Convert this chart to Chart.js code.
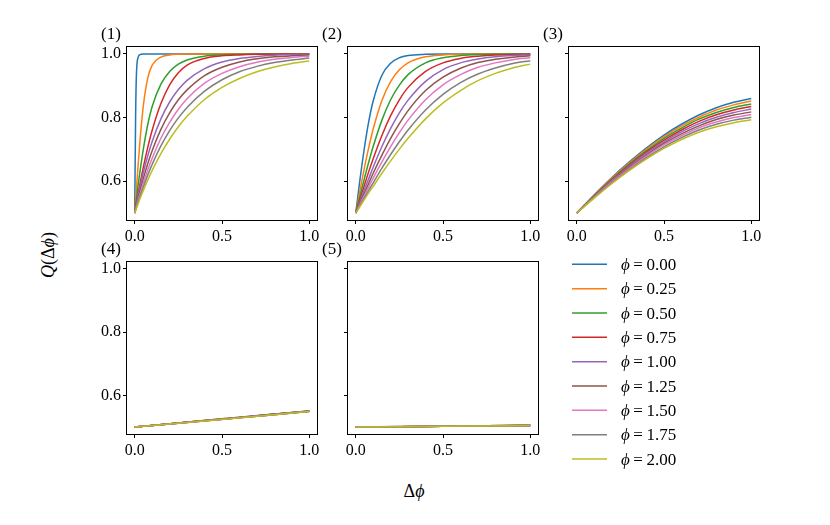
<!DOCTYPE html>
<html>
<head>
<meta charset="utf-8">
<script src="https://cdn.jsdelivr.net/npm/chart.js@4.4.0/dist/chart.umd.min.js"></script>
<style>
html,body{margin:0;padding:0;background:#fff;}
#fig{position:relative;width:830px;height:525px;overflow:hidden;background:#fff;font-family:'Liberation Serif','DejaVu Serif',serif;}
#fig canvas{position:absolute;}
.lbl{position:absolute;font-size:18px;color:#000;white-space:nowrap;line-height:1;font-family:'Liberation Serif','DejaVu Serif',serif;}
#ylab{left:48px;top:255px;transform:translate(-50%,-50%) rotate(-90deg);}
#xlab{left:414px;top:491px;transform:translate(-50%,-50%);}
</style>
</head>
<body>
<div id="fig">
  <canvas id="c1"></canvas>
  <canvas id="c2"></canvas>
  <canvas id="c3"></canvas>
  <canvas id="c4"></canvas>
  <canvas id="c5"></canvas>
  <canvas id="cleg"></canvas>
  <div class="lbl" id="ylab"><i>Q</i>(Δ<i>ϕ</i>)</div>
  <div class="lbl" id="xlab">Δ<i>ϕ</i></div>
</div>
<script>
// ---------------- data ----------------
const PHI_VALUES = ['0.00','0.25','0.50','0.75','1.00','1.25','1.50','1.75','2.00'];
const PANEL_NAMES = ['(1)','(2)','(3)','(4)','(5)'];
const X_TICKS = [0.0, 0.5, 1.0];
const Y_TICKS = [0.6, 0.8, 1.0];

const X_P1 = [0, 0.005, 0.01, 0.02, 0.03, 0.05, 0.075, 0.1, 0.15, 0.2, 0.25, 0.3, 0.4, 0.5, 0.6, 0.7, 0.8, 0.9, 1.0];
const Q_P1 = [
  [0.5, 0.800, 0.940, 0.990, 0.998, 1.000, 1.000, 1.000, 1.000, 1.000, 1.000, 1.000, 1.000, 1.000, 1.000, 1.000, 1.000, 1.000, 1.000],
  [0.5, 0.540, 0.579, 0.655, 0.726, 0.841, 0.925, 0.965, 0.990, 0.997, 0.999, 1.000, 1.000, 1.000, 1.000, 1.000, 1.000, 1.000, 1.000],
  [0.5, 0.524, 0.546, 0.590, 0.630, 0.703, 0.779, 0.835, 0.905, 0.945, 0.968, 0.981, 0.993, 0.997, 0.999, 1.000, 1.000, 1.000, 1.000],
  [0.5, 0.516, 0.532, 0.563, 0.592, 0.646, 0.707, 0.760, 0.844, 0.903, 0.941, 0.965, 0.986, 0.994, 0.997, 0.999, 0.999, 1.000, 1.000],
  [0.5, 0.515, 0.529, 0.556, 0.582, 0.629, 0.681, 0.725, 0.796, 0.849, 0.888, 0.917, 0.954, 0.975, 0.986, 0.992, 0.996, 0.998, 0.999],
  [0.5, 0.512, 0.524, 0.547, 0.569, 0.610, 0.656, 0.696, 0.763, 0.815, 0.856, 0.887, 0.932, 0.958, 0.975, 0.985, 0.991, 0.994, 0.997],
  [0.5, 0.511, 0.521, 0.541, 0.560, 0.595, 0.636, 0.672, 0.735, 0.785, 0.826, 0.859, 0.908, 0.939, 0.960, 0.974, 0.983, 0.989, 0.993],
  [0.5, 0.509, 0.518, 0.535, 0.552, 0.583, 0.620, 0.653, 0.711, 0.759, 0.799, 0.832, 0.883, 0.919, 0.944, 0.961, 0.973, 0.981, 0.987],
  [0.5, 0.508, 0.515, 0.530, 0.545, 0.572, 0.604, 0.634, 0.687, 0.732, 0.771, 0.804, 0.857, 0.895, 0.923, 0.944, 0.959, 0.970, 0.978]
];

const X_P2 = [0, 0.025, 0.05, 0.075, 0.1, 0.15, 0.2, 0.25, 0.3, 0.4, 0.5, 0.6, 0.7, 0.8, 0.9, 1.0];
const Q_P2 = [
  [0.5, 0.608, 0.706, 0.789, 0.852, 0.933, 0.971, 0.988, 0.995, 0.999, 1.000, 1.000, 1.000, 1.000, 1.000, 1.000],
  [0.5, 0.573, 0.643, 0.707, 0.764, 0.854, 0.913, 0.950, 0.972, 0.991, 0.997, 0.999, 1.000, 1.000, 1.000, 1.000],
  [0.5, 0.555, 0.609, 0.661, 0.709, 0.792, 0.856, 0.902, 0.935, 0.972, 0.988, 0.995, 0.998, 0.999, 1.000, 1.000],
  [0.5, 0.544, 0.588, 0.631, 0.671, 0.744, 0.806, 0.856, 0.895, 0.945, 0.972, 0.986, 0.993, 0.997, 0.998, 0.999],
  [0.5, 0.537, 0.574, 0.609, 0.644, 0.709, 0.766, 0.815, 0.855, 0.914, 0.951, 0.972, 0.984, 0.991, 0.995, 0.997],
  [0.5, 0.532, 0.563, 0.594, 0.625, 0.682, 0.735, 0.781, 0.822, 0.885, 0.927, 0.955, 0.973, 0.983, 0.990, 0.994],
  [0.5, 0.528, 0.556, 0.583, 0.610, 0.661, 0.709, 0.753, 0.792, 0.856, 0.903, 0.935, 0.958, 0.972, 0.982, 0.988],
  [0.5, 0.524, 0.548, 0.572, 0.595, 0.641, 0.684, 0.724, 0.761, 0.824, 0.873, 0.910, 0.937, 0.956, 0.970, 0.979],
  [0.5, 0.521, 0.543, 0.564, 0.584, 0.625, 0.664, 0.701, 0.735, 0.796, 0.846, 0.885, 0.916, 0.939, 0.956, 0.968]
];

const X_P3 = [0, 0.1, 0.2, 0.3, 0.4, 0.5, 0.6, 0.7, 0.8, 0.9, 1.0];
const Q_P3 = [
  [0.5, 0.557, 0.611, 0.660, 0.705, 0.745, 0.779, 0.808, 0.831, 0.848, 0.860],
  [0.5, 0.556, 0.609, 0.657, 0.701, 0.740, 0.773, 0.801, 0.824, 0.840, 0.852],
  [0.5, 0.555, 0.606, 0.653, 0.696, 0.735, 0.767, 0.795, 0.816, 0.832, 0.843],
  [0.5, 0.553, 0.604, 0.650, 0.692, 0.729, 0.761, 0.788, 0.809, 0.824, 0.835],
  [0.5, 0.552, 0.602, 0.647, 0.688, 0.724, 0.755, 0.781, 0.801, 0.816, 0.827],
  [0.5, 0.551, 0.599, 0.643, 0.683, 0.719, 0.749, 0.774, 0.794, 0.808, 0.818],
  [0.5, 0.550, 0.597, 0.640, 0.679, 0.714, 0.743, 0.768, 0.786, 0.800, 0.810],
  [0.5, 0.548, 0.594, 0.636, 0.674, 0.708, 0.737, 0.761, 0.779, 0.792, 0.801],
  [0.5, 0.547, 0.592, 0.633, 0.670, 0.703, 0.731, 0.754, 0.771, 0.784, 0.793]
];

const X_P4 = [0, 0.25, 0.5, 0.75, 1.0];
const Q_P4 = [
  [0.5, 0.513, 0.526, 0.539, 0.551],
  [0.5, 0.513, 0.526, 0.538, 0.551],
  [0.5, 0.513, 0.525, 0.538, 0.551],
  [0.5, 0.513, 0.525, 0.538, 0.550],
  [0.5, 0.513, 0.525, 0.538, 0.550],
  [0.5, 0.512, 0.525, 0.537, 0.550],
  [0.5, 0.512, 0.525, 0.537, 0.550],
  [0.5, 0.512, 0.525, 0.537, 0.549],
  [0.5, 0.512, 0.524, 0.537, 0.549]
];

const X_P5 = [0, 0.25, 0.5, 0.75, 1.0];
const Q_P5 = [
  [0.5, 0.5015, 0.5030, 0.5043, 0.5055],
  [0.5, 0.5015, 0.5029, 0.5042, 0.5054],
  [0.5, 0.5014, 0.5028, 0.5041, 0.5053],
  [0.5, 0.5014, 0.5027, 0.5040, 0.5052],
  [0.5, 0.5013, 0.5026, 0.5039, 0.5051],
  [0.5, 0.5013, 0.5025, 0.5038, 0.5050],
  [0.5, 0.5012, 0.5025, 0.5037, 0.5049],
  [0.5, 0.5012, 0.5024, 0.5036, 0.5048],
  [0.5, 0.5012, 0.5023, 0.5035, 0.5047]
];

// ---------------- styles / layout ----------------
const SERIES_COLORS = ['#1f77b4','#ff7f0e','#2ca02c','#d62728','#9467bd','#8c564b','#e377c2','#7f7f7f','#bcbd22'];
const FONT = "'Liberation Serif','DejaVu Serif',serif";
const PANEL_BOXES = [
  {L:126, T:46,  W:192, H:175, ylabels:true},
  {L:347, T:46,  W:192, H:175, ylabels:false},
  {L:568, T:46,  W:192, H:175, ylabels:false},
  {L:126, T:261, W:192, H:174, ylabels:true},
  {L:347, T:261, W:192, H:174, ylabels:false}
];
const AX_W = 45, AX_H = 26, PAD_T = 22, PAD_R = 12;

const framePlugin = {
  id: 'frame',
  afterDatasetsDraw(chart, args, opts) {
    const {ctx, chartArea: a} = chart;
    ctx.save();
    ctx.strokeStyle = '#000';
    ctx.lineWidth = 1;
    ctx.strokeRect(Math.round(a.left) + 0.5, Math.round(a.top) + 0.5, Math.round(a.width) - 1, Math.round(a.height) - 1);
    ctx.fillStyle = '#000';
    ctx.font = '17px ' + FONT;
    ctx.textAlign = 'left';
    ctx.textBaseline = 'middle';
    ctx.fillText(opts.label, a.left - 25, a.top - 11);
    ctx.restore();
  }
};

function makePanel(idx, xs, qs) {
  const box = PANEL_BOXES[idx];
  const cv = document.getElementById('c' + (idx + 1));
  const w = box.W + AX_W + PAD_R, h = box.H + PAD_T + AX_H;
  cv.width = w; cv.height = h;
  cv.style.width = w + 'px'; cv.style.height = h + 'px';
  cv.style.left = (box.L - AX_W) + 'px';
  cv.style.top = (box.T - PAD_T) + 'px';
  const datasets = qs.map((ys, i) => ({
    label: 'ϕ = ' + PHI_VALUES[i],
    data: xs.map((x, k) => ({x: x, y: ys[k]})),
    borderColor: SERIES_COLORS[i],
    backgroundColor: SERIES_COLORS[i],
    borderWidth: 1.5,
    pointRadius: 0,
    fill: false,
    cubicInterpolationMode: 'monotone',
    order: qs.length - i
  }));
  const tickFont = {family: FONT, size: 16};
  new Chart(cv, {
    type: 'line',
    data: {datasets},
    options: {
      responsive: false,
      animation: false,
      devicePixelRatio: 1,
      layout: {padding: {left: 0, right: PAD_R, top: PAD_T, bottom: 0}},
      plugins: {legend: {display: false}, tooltip: {enabled: false}, frame: {label: PANEL_NAMES[idx]}},
      scales: {
        x: {
          type: 'linear', min: -0.05, max: 1.05,
          afterBuildTicks: s => { s.ticks = X_TICKS.map(v => ({value: v})); },
          afterFit: s => { s.height = AX_H; },
          ticks: {callback: v => Number(v).toFixed(1), font: tickFont, color: '#000', padding: 3, maxRotation: 0, autoSkip: false},
          grid: {display: true, drawOnChartArea: false, drawTicks: true, tickLength: 3, color: '#000', tickColor: '#000'},
          border: {display: false}
        },
        y: {
          type: 'linear', min: 0.475, max: 1.025,
          afterBuildTicks: s => { s.ticks = Y_TICKS.map(v => ({value: v})); },
          afterFit: s => { s.width = AX_W; },
          ticks: {callback: v => box.ylabels ? Number(v).toFixed(1) : '', font: tickFont, color: '#000', padding: 2, autoSkip: false},
          grid: {display: true, drawOnChartArea: false, drawTicks: true, tickLength: 3, color: '#000', tickColor: '#000'},
          border: {display: false}
        }
      }
    },
    plugins: [framePlugin]
  });
}

makePanel(0, X_P1, Q_P1);
makePanel(1, X_P2, Q_P2);
makePanel(2, X_P3, Q_P3);
makePanel(3, X_P4, Q_P4);
makePanel(4, X_P5, Q_P5);

// ---------------- legend (own small chart) ----------------
const LEG = {left: 560, top: 245, w: 170, h: 230, x0: 12, x1: 47, tx: 61, y0: 19.3, dy: 24.34};
const legendPlugin = {
  id: 'legendDraw',
  afterDraw(chart) {
    const ctx = chart.ctx;
    ctx.save();
    chart.data.datasets.forEach((d, i) => {
      const y = LEG.y0 + LEG.dy * i;
      ctx.strokeStyle = d.borderColor;
      ctx.lineWidth = 1.5;
      ctx.beginPath();
      ctx.moveTo(LEG.x0, y);
      ctx.lineTo(LEG.x1, y);
      ctx.stroke();
      ctx.fillStyle = '#000';
      ctx.textBaseline = 'alphabetic';
      ctx.textAlign = 'left';
      const base = y + 5.8;
      let x = LEG.tx;
      ctx.font = 'italic 17px ' + FONT;
      ctx.fillText('ϕ', x, base);
      x += ctx.measureText('ϕ').width + 3.5;
      ctx.font = '17px ' + FONT;
      ctx.fillText('=', x, base);
      x += ctx.measureText('=').width + 3.5;
      ctx.fillText(d.phi, x, base);
    });
    ctx.restore();
  }
};
(function () {
  const cv = document.getElementById('cleg');
  cv.width = LEG.w; cv.height = LEG.h;
  cv.style.width = LEG.w + 'px'; cv.style.height = LEG.h + 'px';
  cv.style.left = LEG.left + 'px'; cv.style.top = LEG.top + 'px';
  new Chart(cv, {
    type: 'line',
    data: {datasets: PHI_VALUES.map((p, i) => ({label: 'ϕ = ' + p, phi: p, data: [], borderColor: SERIES_COLORS[i]}))},
    options: {
      responsive: false, animation: false, devicePixelRatio: 1,
      plugins: {legend: {display: false}, tooltip: {enabled: false}},
      scales: {x: {display: false}, y: {display: false}}
    },
    plugins: [legendPlugin]
  });
})();
</script>
</body>
</html>
